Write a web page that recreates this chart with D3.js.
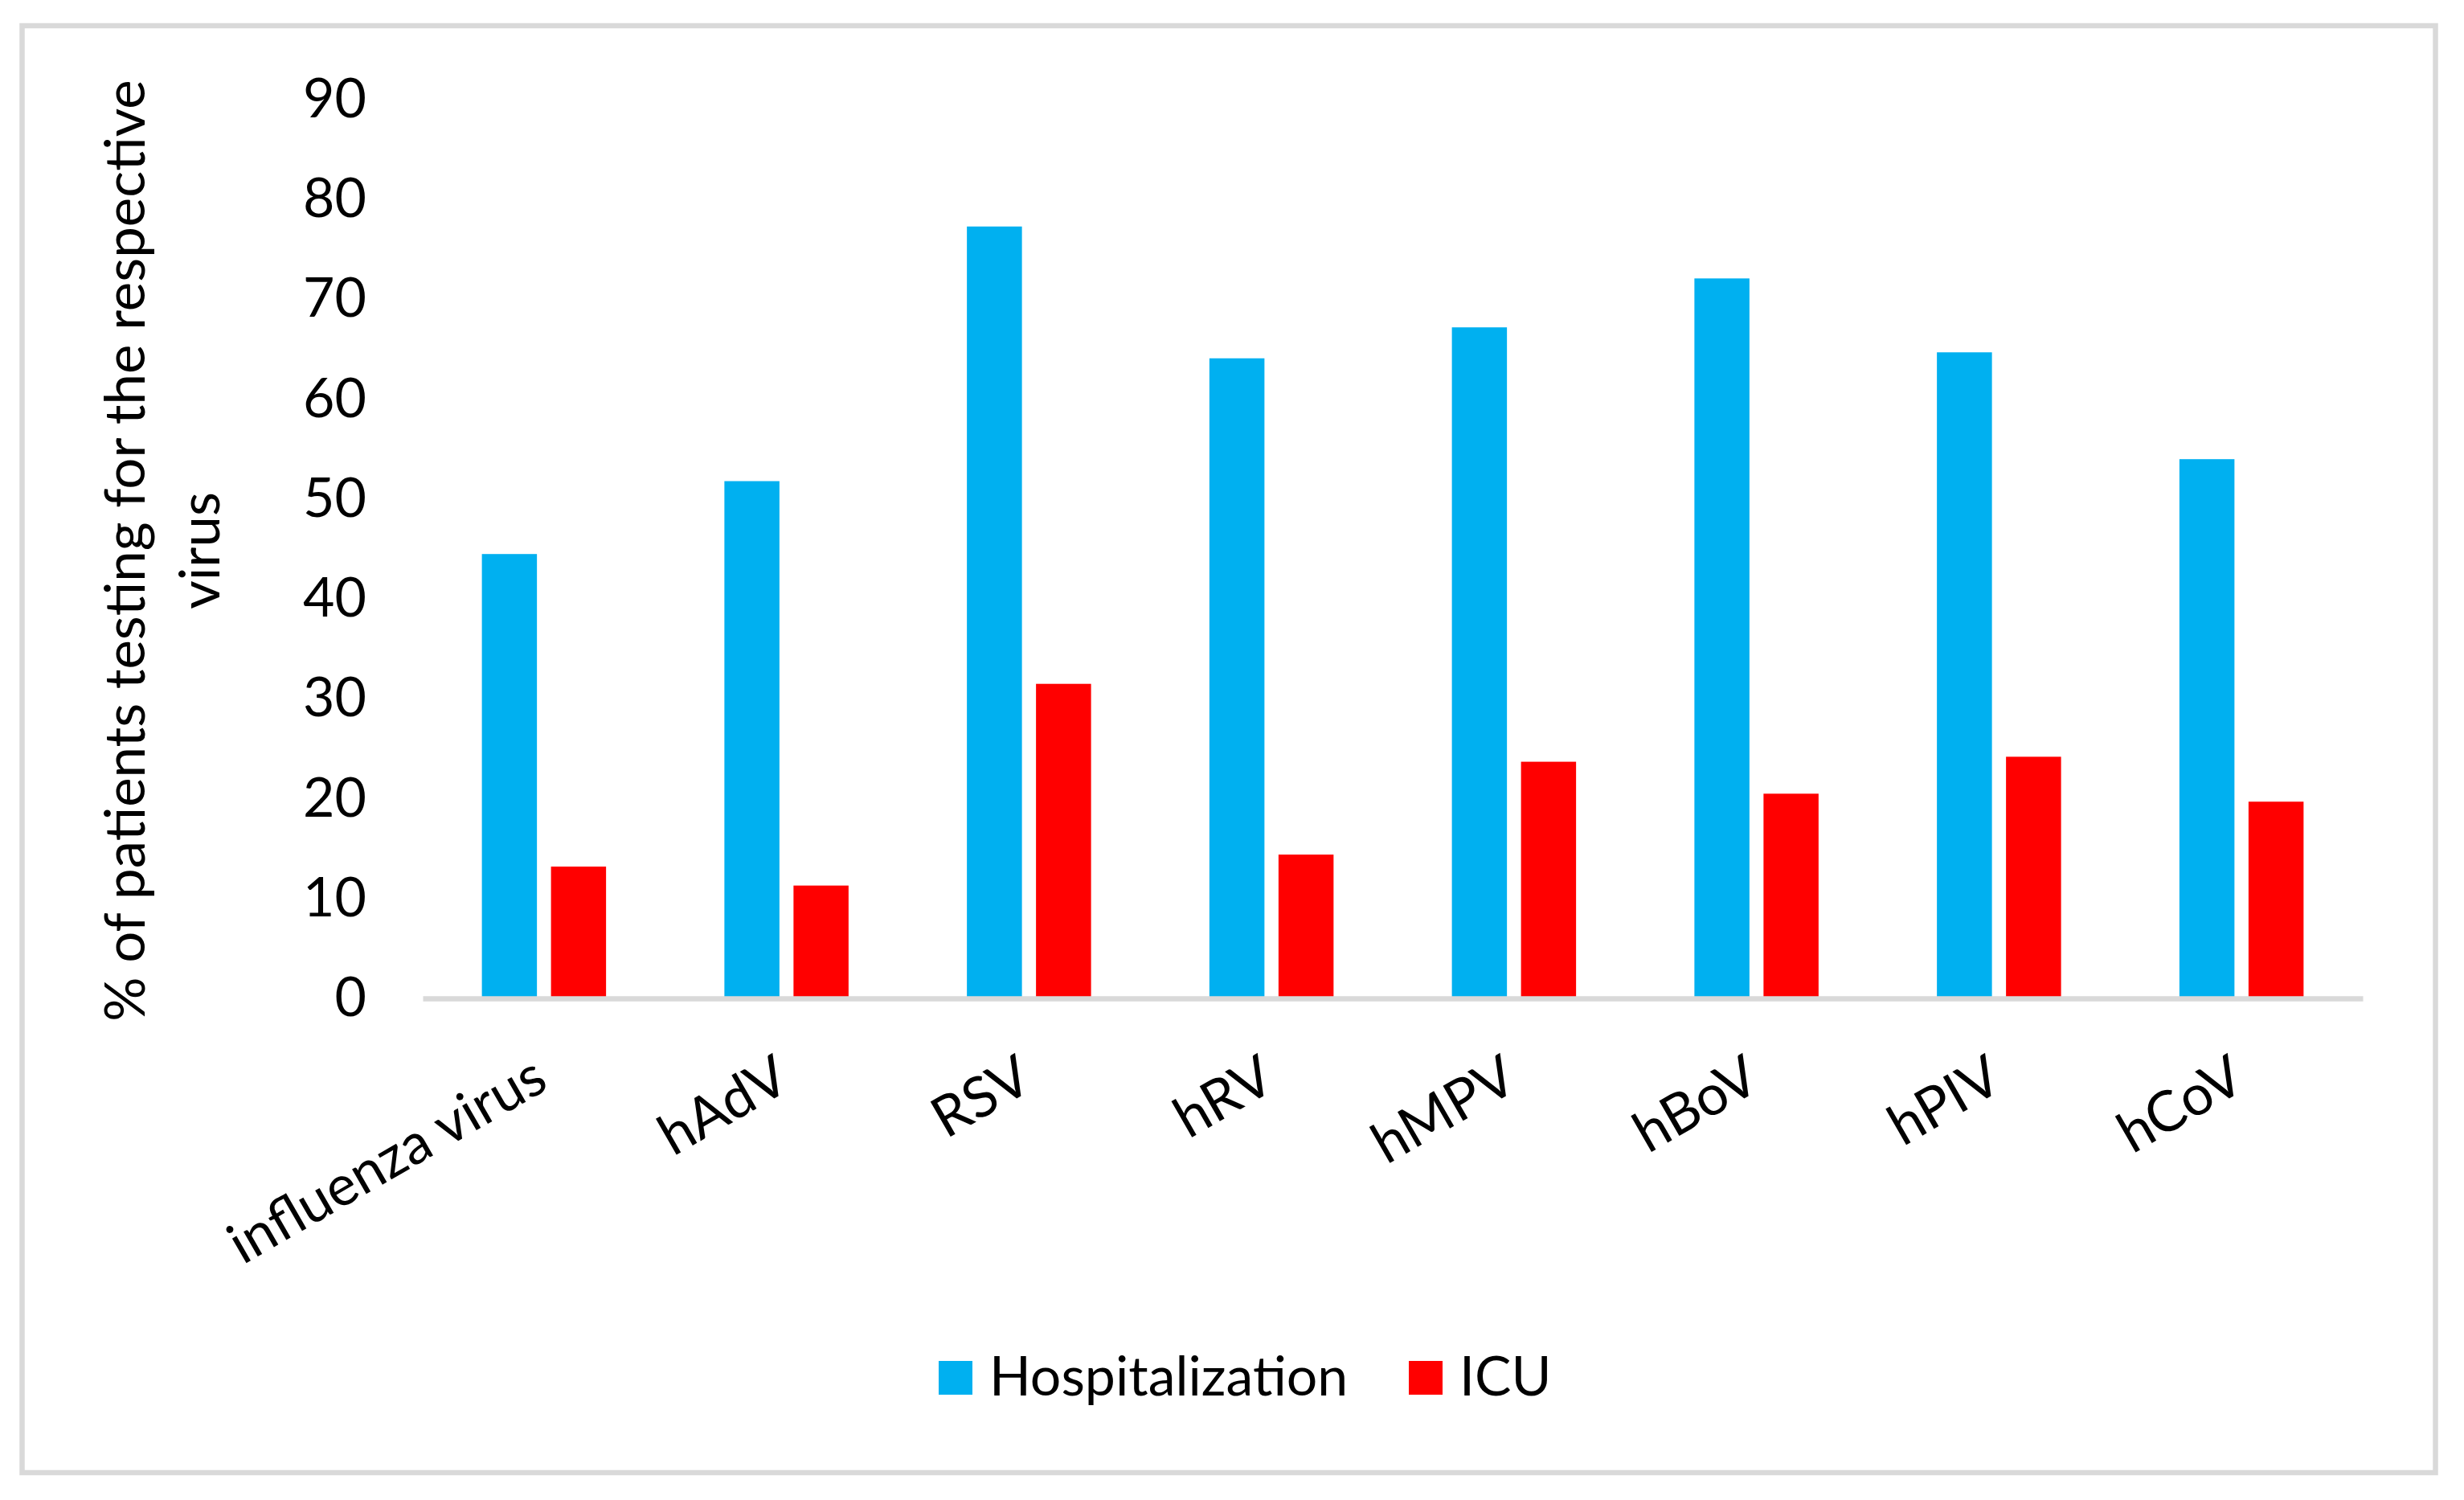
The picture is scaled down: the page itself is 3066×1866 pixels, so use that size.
<!DOCTYPE html>
<html><head><meta charset="utf-8">
<script src="https://cdn.jsdelivr.net/npm/d3@7"></script>
<style>body{margin:0;background:#fff} svg{display:block}</style>
</head><body>
<svg id="c" width="3066" height="1866"></svg>
<script>
const categories = ["influenza virus","hAdV","RSV","hRV","hMPV","hBoV","hPIV","hCoV"];
const seriesNames = ["Hospitalization","ICU"];
const hospitalization = [44.5,51.8,77.3,64.1,67.2,72.1,64.7,54.0];
const icu = [13.2,11.3,31.5,14.4,23.7,20.5,24.2,19.7];
const yTicks = [0,10,20,30,40,50,60,70,80,90];
const colors = ["#00B0F0","#FF0000"];
const yTitleLines = ["% of patients testing for the respective","virus"];

const FONT = "Lato, 'Open Sans', sans-serif";
const svg = d3.select("#c");
svg.append("rect").attr("width",3066).attr("height",1866).attr("fill","#fff");
svg.append("rect").attr("x",27.5).attr("y",32).attr("width",3003).attr("height",1800)
  .attr("fill","none").attr("stroke","#d9d9d9").attr("stroke-width",6.5);

const x0 = d3.scaleBand().domain(categories).range([526,2940]).padding(0);
const groupW = 154.5;
const x1 = d3.scaleBand().domain(seriesNames).range([0,groupW]).paddingInner(0.2035).paddingOuter(0);
const y = d3.scaleLinear().domain([0,90]).range([1242,124]);
const color = d3.scaleOrdinal().domain(seriesNames).range(colors);

const rows = categories.map((c,i)=>({cat:c, vals:[{s:"Hospitalization",v:hospitalization[i]},{s:"ICU",v:icu[i]}]}));

const groups = svg.append("g").selectAll("g").data(rows).join("g")
  .attr("transform",d=>`translate(${x0(d.cat)+(x0.bandwidth()-groupW)/2},0)`);
groups.selectAll("rect").data(d=>d.vals).join("rect")
  .attr("x",d=>x1(d.s)).attr("width",x1.bandwidth())
  .attr("y",d=>y(d.v)).attr("height",d=>y(0)-y(d.v))
  .attr("fill",d=>color(d.s));

// y axis labels
const yAxis = svg.append("g").attr("transform","translate(456,-3)")
  .call(d3.axisLeft(y).tickValues(yTicks).tickSize(0).tickPadding(0));
yAxis.select(".domain").remove();
yAxis.selectAll("text").attr("font-family",FONT).attr("font-size",68).attr("fill","#000").attr("dy","0.36em");

// x axis
const xAxis = svg.append("g").attr("transform",`translate(0,${y(0)})`)
  .call(d3.axisBottom(x0).tickSize(0).tickSizeOuter(0).tickPadding(0));
xAxis.select(".domain").attr("stroke","#d9d9d9").attr("stroke-width",6.5);
xAxis.selectAll("text").attr("x",0).attr("y",0).attr("dy",null)
  .attr("transform","translate(8,111) rotate(-30)")
  .attr("text-anchor","end")
  .attr("font-family",FONT).attr("font-size",70).attr("fill","#000");

// y title
const yt = svg.append("text").attr("transform","translate(180,685) rotate(-90)")
  .attr("text-anchor","middle").attr("font-family",FONT).attr("font-size",69).attr("fill","#000");
yt.selectAll("tspan").data(yTitleLines).join("tspan")
  .attr("x",0).attr("dy",(d,i)=>i===0?0:93).text(d=>d);

// legend
const legendX = [1168,1753];
const lg = svg.append("g").selectAll("g").data(seriesNames).join("g")
  .attr("transform",(d,i)=>`translate(${legendX[i]},1693)`);
lg.append("rect").attr("width",42).attr("height",42).attr("fill",d=>color(d));
lg.append("text").attr("x",63).attr("y",43).attr("font-family",FONT).attr("font-size",68).attr("fill","#000").text(d=>d);
</script>
</body></html>
